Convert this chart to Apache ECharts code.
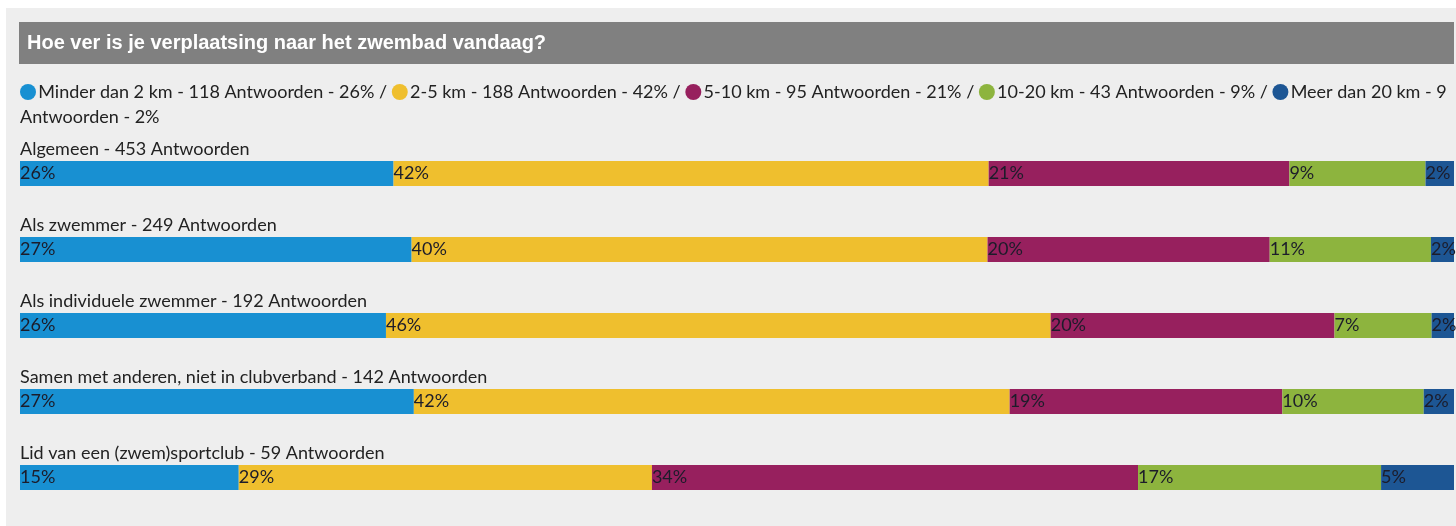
<!DOCTYPE html>
<html>
<head>
<meta charset="utf-8">
<script src="https://cdn.jsdelivr.net/npm/echarts@6/dist/echarts.min.js"></script>
<style>
  html, body { margin: 0; padding: 0; background: #ffffff; }
  #main { position: absolute; left: 0; top: 0; width: 1456px; height: 526px; }
</style>
</head>
<body>
<div id="main"></div>
<script>
// ---- Data ----
const chartTitle = 'Hoe ver is je verplaatsing naar het zwembad vandaag?';
const categories = [
  'Algemeen',
  'Als zwemmer',
  'Als individuele zwemmer',
  'Samen met anderen, niet in clubverband',
  'Lid van een (zwem)sportclub'
];
const totals = [453, 249, 192, 142, 59];
const seriesNames = ['Minder dan 2 km', '2-5 km', '5-10 km', '10-20 km', 'Meer dan 20 km'];
const seriesColors = ['#1890d2', '#efbf2e', '#97205e', '#8db43e', '#1d5694'];
// answer counts per distance band, per category (same order as categories)
const minder2 = [118, 68, 49, 39, 9];
const km2_5   = [188, 100, 89, 59, 17];
const km5_10  = [95, 49, 38, 27, 20];
const km10_20 = [43, 28, 13, 14, 10];
const meer20  = [9, 4, 3, 3, 3];
const seriesCounts = [minder2, km2_5, km5_10, km10_20, meer20];

// ---- Build ----
const pct = (c, t) => c / t * 100;
const font = 'Lato, "Noto Sans", sans-serif';

// legend text (rich) built from the data; wraps before the last "Antwoorden"
const rich = { t: { fontSize: 18, fontFamily: font, color: '#222222', lineHeight: 25 } };
let legendStr = '';
seriesNames.forEach((n, i) => {
  rich['c' + i] = { backgroundColor: seriesColors[i], width: 16, height: 16, borderRadius: 8 };
  const p = Math.round(pct(seriesCounts[i][0], totals[0]));
  const last = i === seriesNames.length - 1;
  const head = n + ' - ' + seriesCounts[i][0];
  const tail = 'Antwoorden - ' + p + '%' + (last ? '' : ' / ');
  legendStr += '{c' + i + '|}{t|\u2009' + head + (last ? '}\n{t|' : ' ') + tail + '}';
});

const series = seriesNames.map((n, i) => ({
  name: n,
  type: 'bar',
  stack: 'all',
  barWidth: 25,
  itemStyle: { color: seriesColors[i] },
  label: {
    show: true,
    position: 'insideLeft',
    distance: 0,
    fontSize: 18,
    fontFamily: font,
    color: '#1c1c2a',
    formatter: p => Math.round(p.value) + '%'
  },
  emphasis: { disabled: true },
  data: seriesCounts[i].map((c, k) => pct(c, totals[k]))
}));

const chart = echarts.init(document.getElementById('main'), null, { renderer: 'canvas' });
chart.setOption({
  animation: false,
  backgroundColor: '#ffffff',
  graphic: [
    { type: 'rect', left: 6, top: 8, shape: { width: 1450, height: 518 }, style: { fill: '#eeeeee' }, z: -10 },
    { type: 'rect', left: 19, top: 22, shape: { width: 1435, height: 42 }, style: { fill: '#808080' }, z: -5 },
    { type: 'text', left: 27, top: 33,
      style: { text: chartTitle, fill: '#ffffff', font: 'bold 20px "Liberation Sans", Arial, sans-serif' } },
    { type: 'text', left: 20, top: 83,
      style: { text: legendStr, rich: rich, fill: '#222222' } }
  ],
  grid: { left: 20, right: 2, top: 135.5, height: 380, containLabel: false },
  xAxis: { type: 'value', min: 0, max: 100, show: false },
  yAxis: {
    type: 'category',
    inverse: true,
    data: categories.map((c, i) => c + ' - ' + totals[i] + ' Antwoorden'),
    axisLine: { show: false },
    axisTick: { show: false },
    splitLine: { show: false },
    axisLabel: {
      inside: true,
      margin: 0,
      align: 'left',
      verticalAlign: 'middle',
      formatter: v => '{a|' + v + '}\n{b|}',
      rich: {
        a: { fontSize: 18, fontFamily: font, color: '#222222', lineHeight: 22 },
        b: { height: 49, lineHeight: 49 }
      }
    },
    z: 10
  },
  series: series
});
</script>
</body>
</html>
